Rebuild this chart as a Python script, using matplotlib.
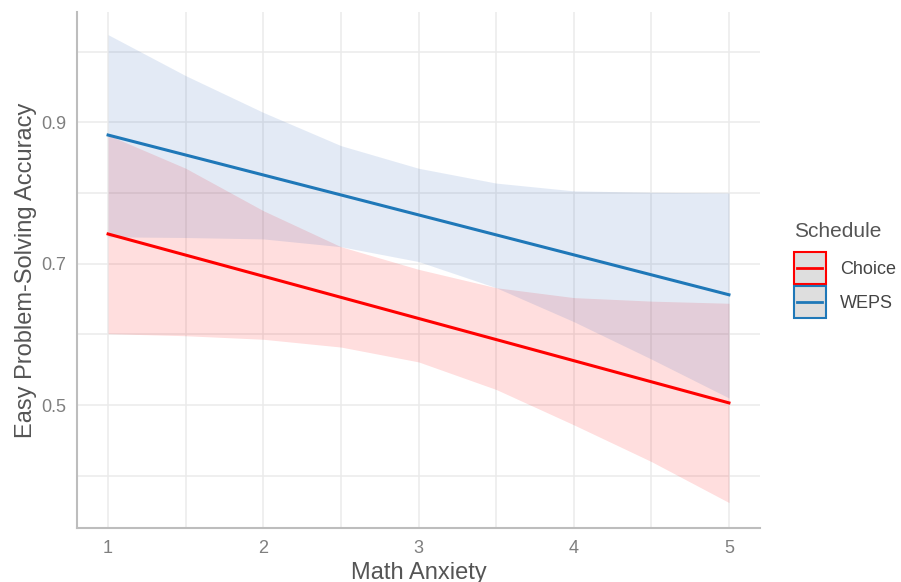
"""Easy problem-solving accuracy vs math anxiety, by schedule"""

import matplotlib
matplotlib.use("Agg")
import numpy as np
from matplotlib import pyplot as plt
from matplotlib.legend_handler import HandlerBase
from matplotlib.lines import Line2D
from matplotlib.patches import Rectangle
from matplotlib.ticker import MultipleLocator

plt.rcParams['font.family'] = ['Liberation Sans', 'DejaVu Sans']

# Math anxiety grid where the ribbons were evaluated
anxiety = [1.0, 1.5, 2.0, 2.5, 3.0, 3.5, 4.0, 4.5, 5.0]

# Fitted lines (end points)
choice_fit = [0.742, 0.503]
weps_fit = [0.882, 0.656]

# Confidence bands
choice_lo = [0.601, 0.598, 0.593, 0.582, 0.561, 0.522, 0.472, 0.420, 0.362]
choice_hi = [0.882, 0.835, 0.775, 0.724, 0.692, 0.666, 0.652, 0.647, 0.644]
weps_lo = [0.738, 0.737, 0.735, 0.724, 0.703, 0.666, 0.618, 0.565, 0.510]
weps_hi = [1.024, 0.966, 0.914, 0.867, 0.835, 0.814, 0.803, 0.801, 0.800]

schedules = ["Choice", "WEPS"]
colors = {"Choice": "#ff0000", "WEPS": "#1f78b8"}


class BoxLineHandler(HandlerBase):
    """ggplot style key: grey box with a coloured border and a line through it"""

    def create_artists(self, legend, orig_handle, xdescent, ydescent,
                       width, height, fontsize, trans):
        color = orig_handle.get_color()
        x0, y0 = -xdescent, -ydescent
        box = Rectangle((x0, y0), width, height, facecolor="#dedede",
                        edgecolor=color, lw=1.5, transform=trans)
        line = Line2D([x0 + 0.1 * width, x0 + 0.9 * width],
                      [y0 + height / 2] * 2, color=color, lw=2,
                      transform=trans)
        return [box, line]


def main():
    fig = plt.figure(figsize=(9.01, 5.82), dpi=100)
    ax = fig.add_axes([0.0855, 0.0928, 0.758, 0.886])

    ends = [anxiety[0], anxiety[-1]]
    ax.fill_between(anxiety, choice_lo, choice_hi, color=colors["Choice"],
                    alpha=0.13, linewidth=0)
    ax.fill_between(anxiety, weps_lo, weps_hi, color="#2a62b8",
                    alpha=0.13, linewidth=0)
    ax.plot(ends, choice_fit, color=colors["Choice"], lw=2.2)
    ax.plot(ends, weps_fit, color=colors["WEPS"], lw=2.2)

    ax.set_xlim(0.8, 5.2)
    ax.set_ylim(0.326, 1.0556)
    ax.set_xticks([1, 2, 3, 4, 5])
    ax.set_yticks([0.5, 0.7, 0.9])
    ax.xaxis.set_minor_locator(MultipleLocator(0.5))
    ax.yaxis.set_minor_locator(MultipleLocator(0.1))
    ax.grid(which="both", color="#ebebeb", lw=1.1)
    ax.set_axisbelow(True)
    ax.tick_params(which="both", length=0, labelsize=13, labelcolor="#7f7f7f")
    ax.tick_params(axis="x", pad=9)
    ax.tick_params(axis="y", pad=8)

    for side in ["top", "right"]:
        ax.spines[side].set_visible(False)
    for side in ["left", "bottom"]:
        ax.spines[side].set_color("#bdbdbd")
        ax.spines[side].set_linewidth(1.5)

    ax.set_xlabel("Math Anxiety", fontsize=17, color="#555555", labelpad=3)
    ax.set_ylabel("Easy Problem-Solving Accuracy", fontsize=17,
                  color="#555555", labelpad=2.5)

    handles = [Line2D([], [], color=colors[s]) for s in schedules]
    leg = ax.legend(handles, schedules, title="Schedule", frameon=False,
                    loc="center left", bbox_to_anchor=(1.026, 0.5),
                    handler_map={Line2D: BoxLineHandler()},
                    fontsize=13, title_fontsize=15, handlelength=1.75,
                    handleheight=2.35, handletextpad=0.8, labelspacing=0.1)
    leg._legend_box.align = "left"
    leg._legend_box.sep = 8
    leg.get_title().set_color("#555555")
    for t in leg.get_texts():
        t.set_color("#444444")

    fig.savefig("out.png", dpi=100, facecolor="white")


if __name__ == "__main__":
    main()
